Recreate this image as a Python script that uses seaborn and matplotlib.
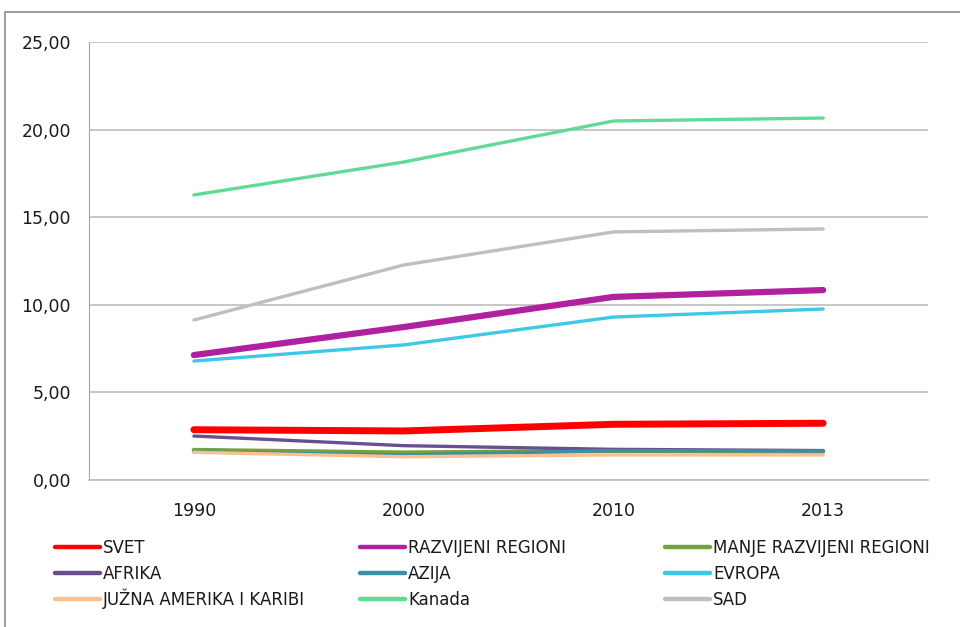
import numpy as np
import pandas as pd
import matplotlib
matplotlib.use('Agg')
import matplotlib.pyplot as plt
from matplotlib.patches import Rectangle
from matplotlib.lines import Line2D
import seaborn as sns

sns.set_style('white')
plt.rcParams['font.family'] = ['DejaVu Sans']

# podaci (procitano sa grafika)
godine = ['1990', '2000', '2010', '2013']
svet = [2.87, 2.80, 3.18, 3.24]
razvijeni = [7.13, 8.73, 10.45, 10.84]
manje_razvijeni = [1.71, 1.56, 1.66, 1.62]
afrika = [2.51, 1.96, 1.75, 1.68]
azija = [1.60, 1.43, 1.68, 1.66]
evropa = [6.79, 7.71, 9.30, 9.76]
juzna_amerika = [1.58, 1.33, 1.43, 1.43]
kanada = [16.27, 18.15, 20.49, 20.66]
sad = [9.13, 12.27, 14.16, 14.33]

serije = [
    ('SVET', svet, '#FF0000', 5.0),
    ('RAZVIJENI REGIONI', razvijeni, '#B0209F', 4.5),
    ('MANJE RAZVIJENI REGIONI', manje_razvijeni, '#77A13B', 3.2),
    ('AFRIKA', afrika, '#6B4E90', 2.4),
    ('AZIJA', azija, '#3B8FA7', 2.4),
    ('EVROPA', evropa, '#3EC8E8', 2.4),
    ('JUŽNA AMERIKA I KARIBI', juzna_amerika, '#FAC090', 2.4),
    ('Kanada', kanada, '#5FDB95', 2.4),
    ('SAD', sad, '#BFBFBF', 2.4),
]

W, H = 960, 627
fig = plt.figure(figsize=(9.6, 6.27), dpi=100)
ax = fig.add_axes([89 / W, 1 - 480 / H, (928 - 89) / W, (480 - 42) / H])

for ime, vrednosti, boja, lw in serije:
    sns.lineplot(x=godine, y=vrednosti, color=boja, linewidth=lw, ax=ax,
                 solid_capstyle='round', sort=False)

ax.set_xlim(-0.5, 3.5)
ax.set_ylim(0, 25)
ax.set_yticks(np.arange(0, 26, 5))
ax.set_yticklabels([f'{v:.2f}'.replace('.', ',') for v in np.arange(0, 26, 5)])
ax.grid(axis='y', color='#BEBEBE', linewidth=1.2)
ax.set_axisbelow(True)
for s in ['top', 'right']:
    ax.spines[s].set_visible(False)
ax.spines['left'].set_color('#A6A6A6')
ax.spines['bottom'].set_color('#BEBEBE')
ax.spines['bottom'].set_linewidth(1.2)
ax.tick_params(axis='y', length=0, pad=13, labelsize=12.5, colors='#1a1a1a')
ax.tick_params(axis='x', length=0, pad=16, labelsize=12.5, colors='#1a1a1a')
ax.set_xlabel('')
ax.set_ylabel('')

# legenda: tri kolone, redovi popunjeni s leva na desno
kolone_x = [55, 360, 665]
redovi_y = [547, 573, 599]
for i, (ime, _, boja, _) in enumerate(serije):
    x0 = kolone_x[i % 3]
    y0 = redovi_y[i // 3]
    fig.add_artist(Line2D([x0 / W, (x0 + 45) / W], [1 - y0 / H, 1 - y0 / H],
                          transform=fig.transFigure, color=boja, linewidth=3.2,
                          solid_capstyle='round'))
    fig.text((x0 + 48) / W, 1 - (y0 + 6) / H, ime, ha='left', va='baseline',
             fontsize=12, color='#1a1a1a')

# okvir oblasti grafikona
fig.add_artist(Rectangle((5 / W, -0.05), 1.0, 1 - 12 / H + 0.05,
                         transform=fig.transFigure, fill=False,
                         edgecolor='#8C8C8C', linewidth=1.2))

fig.savefig('out.png', dpi=100)
